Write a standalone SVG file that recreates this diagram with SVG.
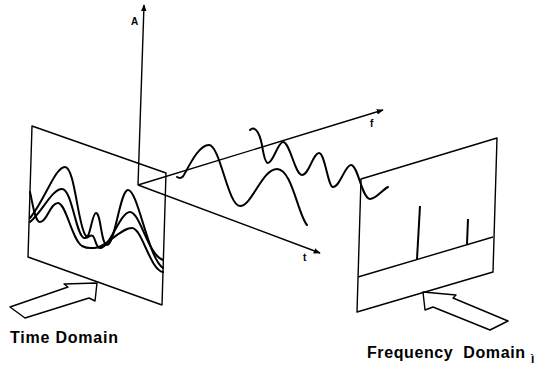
<svg xmlns="http://www.w3.org/2000/svg" width="540" height="370" viewBox="0 0 540 370">
<style>
.ln{fill:none;stroke:#000;stroke-width:1.4;stroke-linejoin:round}
.wv{fill:none;stroke:#000;stroke-width:2;stroke-linecap:round;stroke-linejoin:round}
.lbl{font-family:"Liberation Sans",Arial,sans-serif;font-weight:bold;fill:#000}
.ax{font-family:"Liberation Sans",Arial,sans-serif;font-weight:bold;fill:#000}
</style>
<defs>
<marker id="ah" viewBox="0 0 10 10" refX="9" refY="5" markerWidth="7" markerHeight="7" markerUnits="userSpaceOnUse" orient="auto">
<path d="M0,1 L10,5 L0,9 Z" fill="#000"/>
</marker>
</defs>
<rect width="540" height="370" fill="#fff"/>
<g id="connectors">
<line class="ln" x1="138" y1="185" x2="144" y2="5" marker-end="url(#ah)"/>
<line class="ln" x1="138" y1="185" x2="383" y2="110" marker-end="url(#ah)"/>
<line class="ln" x1="138" y1="185" x2="320" y2="253" marker-end="url(#ah)"/>
</g>
<g id="axis-labels">
<text class="ax" x="131" y="25" font-size="10">A</text>
<text class="ax" x="370" y="127" font-size="10">f</text>
<text class="ax" x="303" y="261" font-size="10">t</text>
</g>
<g id="time-panel">
<polygon class="ln" points="32,126 166,173 162,305 28,257"/>
<path class="wv" d="M30,218 C45,200 55,167 65,167 C75,167 78,228 86,236 C90,240 92,213 96,213 C101,213 101,245 107,245 C115,245 120,190 128,190 C138,190 148,258 163,268"/>
<path class="wv" d="M30,222 C42,212 52,189 62,189 C72,189 76,236 84,238 C88,239 90,234 93,236 C96,240 96,248 100,248 C110,248 120,212 130,212 C140,212 148,255 163,260"/>
<path class="wv" d="M30,192 C33,205 35,222 40,222 C47,222 50,203 58,203 C66,203 72,240 82,246 C88,249 90,248 94,248 C106,248 120,228 132,228 C142,228 150,270 163,272"/>
</g>
<g id="waves">
<path class="wv" d="M177,177 C180,179 183,178 185,173 C192,160 200,145 209,145 C220,145 228,206 240,206 C252,206 262,169 277,169 C292,169 298,215 307,225"/>
<path class="wv" d="M250,130 C254,126 259,130 262,145 C264,158 266,163 268,163 C273,163 278,142 283,142 C290,142 295,175 302,175 C309,175 313,153 319,153 C325,153 328,187 333,187 C340,187 345,165 351,165 C358,165 362,199 370,199 C376,199 382,190 388,187"/>
</g>
<g id="freq-panel">
<polygon class="ln" points="361,179 497,138 493,272 357,312"/>
<line class="ln" x1="358" y1="277" x2="493" y2="237"/>
<line x1="420" y1="206" x2="417" y2="259" stroke="#000" stroke-width="2"/>
<line x1="468" y1="219" x2="467" y2="244" stroke="#000" stroke-width="2"/>
</g>
<g id="time-arrow">
<polygon class="ln" points="97,283 64,284 68,287 10,307 25,318 89,298 95,301"/>
</g>
<g id="freq-arrow">
<polygon class="ln" points="423,292 456,295 453,298 508,321 490,330 433,307 425,310"/>
</g>
<g id="labels">
<text class="lbl" x="10" y="343" font-size="16" textLength="108" lengthAdjust="spacing">Time Domain</text>
<text class="lbl" x="367" y="358" font-size="16" textLength="158" lengthAdjust="spacing">Frequency&#160; Domain</text>
<text class="ax" x="531" y="363" font-size="12" font-weight="normal">ì</text>
</g>
</svg>
